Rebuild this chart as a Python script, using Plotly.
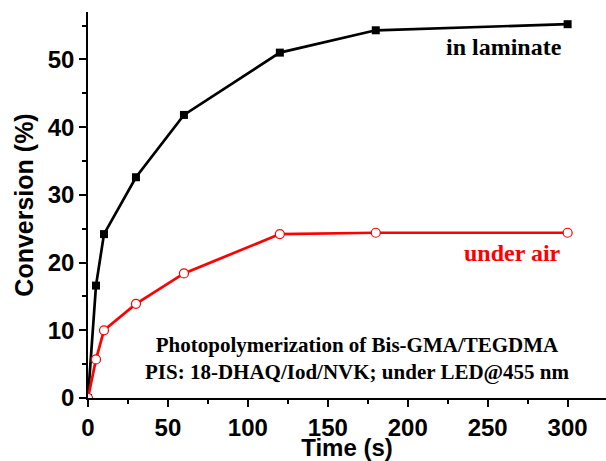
import plotly.graph_objects as go

time_s = [0, 5, 10, 30, 60, 120, 180, 300]
laminate = [0, 16.6, 24.2, 32.6, 41.8, 51.0, 54.3, 55.2]
under_air = [0, 5.7, 10.0, 13.9, 18.4, 24.2, 24.4, 24.4]

x_ticks = [0, 50, 100, 150, 200, 250, 300]
y_ticks = [0, 10, 20, 30, 40, 50]

sans = "Liberation Sans, Arial, sans-serif"
serif = "Liberation Serif, Times New Roman, serif"

fig = go.Figure()
fig.add_trace(go.Scatter(
    x=time_s, y=laminate, mode="lines+markers", name="in laminate",
    line=dict(color="black", width=2.7),
    marker=dict(symbol="square", size=8, color="black"),
))
fig.add_trace(go.Scatter(
    x=time_s, y=under_air, mode="lines+markers", name="under air",
    line=dict(color="#ff0000", width=2.7),
    marker=dict(symbol="circle", size=9, color="white",
                line=dict(color="#ff0000", width=1.2)),
))

fig.add_annotation(x=298, y=51.9, xref="x", yref="y", text="<b>in laminate</b>",
                   showarrow=False, xanchor="right", yanchor="middle",
                   font=dict(family=serif, size=24, color="black"))
fig.add_annotation(x=297, y=21.4, xref="x", yref="y", text="<b>under air</b>",
                   showarrow=False, xanchor="right", yanchor="middle",
                   font=dict(family=serif, size=24, color="#ff0000"))
fig.add_annotation(x=168.5, y=5.8, xref="x", yref="y",
                   text="<b>Photopolymerization of Bis-GMA/TEGDMA</b><br><b>PIS: 18-DHAQ/Iod/NVK; under LED@455 nm</b>",
                   showarrow=False, xanchor="center", yanchor="middle", align="center",
                   font=dict(family=serif, size=21, color="black"))

fig.update_layout(
    width=606, height=461,
    margin=dict(l=88, r=0, t=12, b=63),
    paper_bgcolor="white", plot_bgcolor="white",
    showlegend=False,
    font=dict(family=sans, color="black"),
)
fig.update_xaxes(
    range=[0, 324], tickvals=x_ticks, ticktext=[str(v) for v in x_ticks],
    showline=True, linecolor="black", linewidth=1.5,
    ticks="outside", ticklen=7, tickwidth=1.5, tickcolor="black",
    minor=dict(dtick=25, tick0=0, ticks="outside", ticklen=4, tickwidth=1.5, tickcolor="black"),
    showgrid=False, zeroline=False,
    tickfont=dict(family=sans, size=24, color="black", weight="bold"),
    title=dict(text="Time (s)", standoff=3,
               font=dict(family=sans, size=24, color="black", weight="bold")),
)
fig.update_yaxes(
    range=[0, 57], tickvals=y_ticks, ticktext=[str(v) for v in y_ticks],
    showline=True, linecolor="black", linewidth=1.5,
    ticks="outside", ticklen=7, tickwidth=1.5, tickcolor="black",
    minor=dict(dtick=5, tick0=0, ticks="outside", ticklen=4, tickwidth=1.5, tickcolor="black"),
    showgrid=False, zeroline=False,
    tickfont=dict(family=sans, size=24, color="black", weight="bold"),
    title=dict(text="Conversion (%)", standoff=7,
               font=dict(family=sans, size=25, color="black", weight="bold")),
)

fig.write_html("out.html")
